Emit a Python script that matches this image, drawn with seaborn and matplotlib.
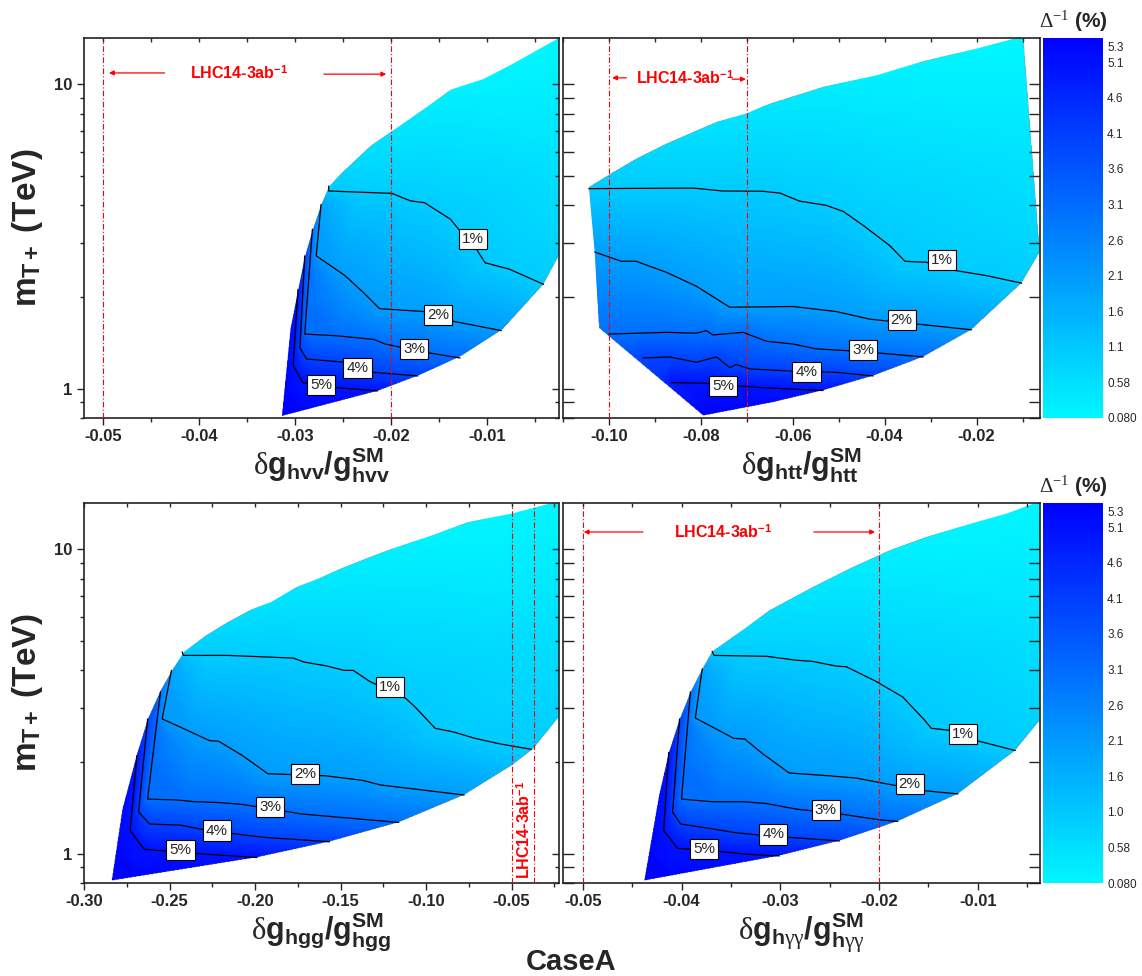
import numpy as np
import matplotlib
matplotlib.use('Agg')
import matplotlib.pyplot as plt
import matplotlib.tri as mtri
import seaborn as sns
from matplotlib.colors import LinearSegmentedColormap, Normalize
from matplotlib.cm import ScalarMappable
from matplotlib.patches import Polygon
from matplotlib.ticker import (MultipleLocator, AutoMinorLocator, FormatStrFormatter,
                               FuncFormatter, NullFormatter, LogLocator)

# ---------------- data ----------------
YLIM = (0.8, 14.2)
levels = [1, 2, 3, 4, 5]

# colour bar
cbar_ticks = [0.08, 0.58, 1.08, 1.58, 2.08, 2.58, 3.08, 3.58, 4.08, 4.58, 5.08, 5.3]
cbar_labels_top = ['0.080', '0.58', '1.1', '1.6', '2.1', '2.6', '3.1', '3.6', '4.1', '4.6', '5.1', '5.3']
cbar_labels_bot = ['0.080', '0.58', '1.0', '1.6', '2.1', '2.6', '3.1', '3.6', '4.1', '4.6', '5.1', '5.3']

# --- hvv panel ---
hvv_edge_x = [-0.0314, -0.0214, -0.0172, -0.0127, -0.0083, -0.0041, -0.0025, -0.0025, -0.0077, -0.0104,
              -0.0138, -0.0161, -0.0191, -0.0221, -0.0252, -0.0265, -0.0273, -0.0282, -0.0290, -0.0297, -0.0305]
hvv_edge_m = [0.81, 0.98, 1.10, 1.28, 1.57, 2.20, 2.73, 14.2, 11.5, 10.4,
              9.6, 8.5, 7.3, 6.3, 5.1, 4.6, 4.0, 3.3, 2.7, 2.1, 1.57]
hvv_edge_val = [5.4, 5.0, 4.0, 3.0, 2.0, 1.0, 0.85, 0.08, 0.12, 0.15,
                0.2, 0.3, 0.4, 0.55, 0.8, 1.0, 2.0, 3.0, 4.0, 5.0, 5.2]
hvv_lines = {
    1: ([-0.0265, -0.0265, -0.0199, -0.0180, -0.0165, -0.0138, -0.0127, -0.0111, -0.0102, -0.0077, -0.0041],
        [4.63, 4.46, 4.38, 4.14, 4.08, 3.60, 3.26, 2.87, 2.59, 2.47, 2.20]),
    2: ([-0.0273, -0.0278, -0.0248, -0.0229, -0.0212, -0.0165, -0.0138, -0.0085],
        [4.03, 2.73, 2.35, 2.07, 1.83, 1.79, 1.67, 1.55]),
    3: ([-0.0282, -0.0290, -0.0256, -0.0218, -0.0206, -0.0161, -0.0128],
        [3.34, 1.51, 1.49, 1.45, 1.40, 1.31, 1.26]),
    4: ([-0.0290, -0.0295, -0.0288, -0.0248, -0.0218, -0.0172],
        [2.73, 1.36, 1.25, 1.22, 1.13, 1.10]),
    5: ([-0.0297, -0.0302, -0.0292, -0.0259, -0.0214],
        [2.12, 1.19, 1.046, 1.008, 0.982]),
}
hvv_lab_x = [-0.0115, -0.0151, -0.0176, -0.0235, -0.0273]
hvv_lab_m = [3.10, 1.74, 1.35, 1.17, 1.025]

# --- htt panel ---
htt_edge_x = [-0.0098, -0.0062, -0.0102, -0.0211, -0.0316, -0.0425, -0.0534, -0.0643, -0.0795, -0.1022,
              -0.1031, -0.1044, -0.0991, -0.0941, -0.0875, -0.0817, -0.0766, -0.0701, -0.0650, -0.0534,
              -0.0418, -0.0309, -0.0200]
htt_edge_m = [14.4, 2.81, 2.22, 1.56, 1.27, 1.10, 0.985, 0.90, 0.813, 1.58,
              2.81, 4.6, 5.15, 5.70, 6.39, 6.98, 7.53, 8.02, 8.65, 9.82,
              10.7, 12.0, 13.1]
htt_edge_val = [0.08, 0.8, 1.0, 2.0, 3.0, 4.0, 5.0, 5.2, 5.4, 2.9,
                2.0, 0.95, 0.9, 0.8, 0.65, 0.55, 0.5, 0.45, 0.4, 0.3,
                0.2, 0.15, 0.1]
htt_lines = {
    1: ([-0.1044, -0.0817, -0.0752, -0.0665, -0.0628, -0.0585, -0.0527, -0.0490, -0.0447, -0.0389, -0.0356,
         -0.0309, -0.0244, -0.0178, -0.0102],
        [4.54, 4.56, 4.46, 4.45, 4.39, 4.13, 4.00, 3.82, 3.44, 2.95, 2.62, 2.60, 2.44, 2.35, 2.22]),
    2: ([-0.1031, -0.0973, -0.0941, -0.0875, -0.0810, -0.0737, -0.0599, -0.0505, -0.0432, -0.0331, -0.0211],
        [2.81, 2.62, 2.62, 2.41, 2.17, 1.85, 1.86, 1.79, 1.69, 1.63, 1.56]),
    3: ([-0.1000, -0.0875, -0.0810, -0.0788, -0.0774, -0.0708, -0.0657, -0.0599, -0.0549, -0.0476, -0.0418, -0.0316],
        [1.51, 1.53, 1.52, 1.55, 1.50, 1.53, 1.43, 1.40, 1.35, 1.33, 1.31, 1.27]),
    4: ([-0.0926, -0.0868, -0.0810, -0.0766, -0.0737, -0.0723, -0.0694, -0.0599, -0.0505, -0.0425],
        [1.26, 1.27, 1.22, 1.27, 1.17, 1.20, 1.16, 1.14, 1.13, 1.10]),
    5: ([-0.0864, -0.0788, -0.0723, -0.0672, -0.0599, -0.0534],
        [1.046, 1.04, 1.02, 1.008, 0.995, 0.985]),
}
htt_lab_x = [-0.0276, -0.0363, -0.0447, -0.0570, -0.0752]
htt_lab_m = [2.64, 1.68, 1.34, 1.135, 1.02]

# --- hgg panel ---
hgg_edge_x = [-0.2840, -0.1989, -0.1564, -0.1160, -0.0777, -0.0500, -0.0372, -0.0223, -0.0223, -0.0500,
              -0.0755, -0.0968, -0.1223, -0.1351, -0.1500, -0.1628, -0.1755, -0.1904, -0.2032, -0.2160,
              -0.2287, -0.2415, -0.2479, -0.2553, -0.2628, -0.2691, -0.2777]
hgg_edge_m = [0.813, 0.97, 1.093, 1.265, 1.557, 1.945, 2.21, 2.81, 14.4, 13.1,
              12.3, 11.1, 9.95, 9.34, 8.65, 8.02, 7.53, 6.72, 6.31, 5.77,
              5.22, 4.60, 4.05, 3.44, 2.77, 2.13, 1.40]
hgg_edge_val = [5.4, 5.0, 4.0, 3.0, 2.0, 1.3, 1.0, 0.85, 0.08, 0.1,
                0.12, 0.15, 0.2, 0.25, 0.3, 0.35, 0.4, 0.5, 0.55, 0.65,
                0.8, 1.0, 2.0, 3.0, 4.0, 5.0, 5.2]
hgg_lines = {
    1: ([-0.2426, -0.2419, -0.2160, -0.1777, -0.1713, -0.1585, -0.1479, -0.1426, -0.1330, -0.1117, -0.1064,
         -0.0947, -0.0840, -0.0713, -0.0564, -0.0383],
        [4.60, 4.48, 4.48, 4.39, 4.26, 4.14, 4.00, 4.00, 3.68, 3.23, 3.03, 2.58, 2.51, 2.39, 2.29, 2.20]),
    2: ([-0.2489, -0.2543, -0.2415, -0.2266, -0.2213, -0.2074, -0.1926, -0.1585, -0.1372, -0.1266, -0.0777],
        [4.00, 2.77, 2.57, 2.35, 2.34, 2.10, 1.83, 1.80, 1.74, 1.68, 1.557]),
    3: ([-0.2553, -0.2628, -0.2457, -0.2351, -0.2202, -0.2074, -0.1798, -0.1734, -0.1160],
        [3.40, 1.51, 1.50, 1.48, 1.47, 1.45, 1.37, 1.35, 1.265]),
    4: ([-0.2628, -0.2681, -0.2617, -0.2436, -0.2309, -0.2117, -0.1947, -0.1564],
        [2.77, 1.37, 1.25, 1.24, 1.20, 1.16, 1.13, 1.093]),
    5: ([-0.2691, -0.2730, -0.2649, -0.2585, -0.2287, -0.1989],
        [2.10, 1.19, 1.033, 1.025, 0.995, 0.97]),
}
hgg_lab_x = [-0.1213, -0.1709, -0.1911, -0.2223, -0.2436]
hgg_lab_m = [3.53, 1.83, 1.42, 1.19, 1.028]

# --- h gamma gamma panel ---
hyy_edge_x = [-0.0438, -0.0301, -0.0240, -0.0181, -0.0120, -0.0062, -0.0037, -0.0037, -0.0071, -0.0101,
              -0.0152, -0.0189, -0.0230, -0.0270, -0.0311, -0.0336, -0.0369, -0.0379, -0.0391, -0.0402,
              -0.0413, -0.0423]
hyy_edge_m = [0.813, 0.982, 1.10, 1.275, 1.57, 2.18, 2.74, 14.4, 13.1, 12.3,
              11.0, 9.95, 8.65, 7.44, 6.31, 5.49, 4.62, 4.05, 3.40, 2.77,
              2.15, 1.55]
hyy_edge_val = [5.4, 5.0, 4.0, 3.0, 2.0, 1.0, 0.85, 0.08, 0.1, 0.12,
                0.15, 0.2, 0.3, 0.4, 0.55, 0.7, 1.0, 2.0, 3.0, 4.0,
                5.0, 5.2]
hyy_lines = {
    1: ([-0.0369, -0.0367, -0.0314, -0.0284, -0.0267, -0.0243, -0.0233, -0.0203, -0.0176, -0.0155, -0.0147,
         -0.0128, -0.0101, -0.0062],
        [4.62, 4.48, 4.45, 4.32, 4.28, 4.13, 4.11, 3.68, 3.27, 2.77, 2.58, 2.54, 2.35, 2.18]),
    2: ([-0.0379, -0.0386, -0.0372, -0.0347, -0.0336, -0.0318, -0.0291, -0.0250, -0.0223, -0.0199, -0.0155, -0.0120],
        [4.05, 2.79, 2.64, 2.39, 2.38, 2.13, 1.84, 1.80, 1.77, 1.71, 1.61, 1.57]),
    3: ([-0.0391, -0.0400, -0.0369, -0.0338, -0.0314, -0.0284, -0.0240, -0.0199, -0.0181],
        [3.40, 1.51, 1.48, 1.48, 1.46, 1.40, 1.35, 1.29, 1.275]),
    4: ([-0.0402, -0.0409, -0.0401, -0.0372, -0.0345, -0.0321, -0.0291, -0.0257, -0.0240],
        [2.77, 1.37, 1.25, 1.21, 1.17, 1.15, 1.13, 1.11, 1.10]),
    5: ([-0.0413, -0.0418, -0.0404, -0.0389, -0.0358, -0.0335, -0.0301],
        [2.15, 1.19, 1.039, 1.033, 1.013, 0.995, 0.982]),
}
hyy_lab_x = [-0.0115, -0.0169, -0.0254, -0.0307, -0.0377]
hyy_lab_m = [2.47, 1.69, 1.39, 1.155, 1.033]

# LHC14 3ab^-1 reach lines
hvv_red = [-0.05, -0.02]
htt_red = [-0.10, -0.07]
hgg_red = [-0.05, -0.037]
hyy_red = [-0.05, -0.02]

# ---------------- style ----------------
sns.set_style('ticks')
plt.rcParams['font.family'] = ['Liberation Sans', 'DejaVu Sans']
plt.rcParams['axes.unicode_minus'] = False
plt.rcParams['mathtext.fontset'] = 'custom'
plt.rcParams['mathtext.rm'] = 'Liberation Serif'
plt.rcParams['mathtext.it'] = 'Liberation Serif:italic'
plt.rcParams['mathtext.bf'] = 'Liberation Sans:bold'
plt.rcParams['mathtext.sf'] = 'Liberation Sans'

cmap = LinearSegmentedColormap.from_list('cyanblue', ['#00f6ff', '#0000ff'])
norm = Normalize(vmin=0.08, vmax=5.42)


def to_norm(x, m, xlim):
    u = (np.asarray(x, float) - xlim[0]) / (xlim[1] - xlim[0]) * 1.25
    w = (np.log10(m) - np.log10(YLIM[0])) / (np.log10(YLIM[1]) - np.log10(YLIM[0]))
    return u, w


def densify(x, m, v, xlim, closed=False, step=0.006):
    # extra nodes along polylines so the triangulation follows the contours
    x, m, v = list(x), list(m), list(v)
    if closed:
        x.append(x[0]); m.append(m[0]); v.append(v[0])
    u, w = to_norm(x, m, xlim)
    lm = np.log10(m)
    ox, om, ov = [], [], []
    for i in range(len(x) - 1):
        n = max(int(np.hypot(u[i + 1] - u[i], w[i + 1] - w[i]) / step), 1)
        t = np.arange(n) / n
        ox.extend(x[i] + (x[i + 1] - x[i]) * t)
        om.extend(lm[i] + (lm[i + 1] - lm[i]) * t)
        ov.extend(v[i] + (v[i + 1] - v[i]) * t)
    if not closed:
        ox.append(x[-1]); om.append(lm[-1]); ov.append(v[-1])
    return ox, om, ov


def raster(u, w, v, tris, gu, gw):
    # linear interpolation over each triangle, written into a pixel grid
    Z = np.full((len(gw), len(gu)), np.nan)
    for t in tris:
        u0, u1, u2 = u[t]
        w0, w1, w2 = w[t]
        det = (w1 - w2) * (u0 - u2) + (u2 - u1) * (w0 - w2)
        if abs(det) < 1e-12:
            continue
        i0, i1 = np.searchsorted(gu, [min(u0, u1, u2), max(u0, u1, u2)])
        j0, j1 = np.searchsorted(gw, [min(w0, w1, w2), max(w0, w1, w2)])
        i0, j0 = max(i0 - 1, 0), max(j0 - 1, 0)
        if i1 <= i0 or j1 <= j0:
            continue
        U, W = np.meshgrid(gu[i0:i1 + 1], gw[j0:j1 + 1])
        l0 = ((w1 - w2) * (U - u2) + (u2 - u1) * (W - w2)) / det
        l1 = ((w2 - w0) * (U - u2) + (u0 - u2) * (W - w2)) / det
        l2 = 1 - l0 - l1
        inside = (l0 >= -1e-6) & (l1 >= -1e-6) & (l2 >= -1e-6)
        val = l0 * v[t[0]] + l1 * v[t[1]] + l2 * v[t[2]]
        sub = Z[j0:j1 + 1, i0:i1 + 1]
        sub[inside] = val[inside]
    return Z


def draw_field(fax, ex, em, ev, lines, xlim):
    px, pl, pv = densify(ex, em, ev, xlim, closed=True)
    for lev, (lx, lm) in lines.items():
        a, b, c = densify(lx, lm, [lev] * len(lx), xlim)
        px += a; pl += b; pv += c
    px, pl, pv = map(np.asarray, (px, pl, pv))
    u, w = to_norm(px, 10 ** pl, xlim)
    key = np.round(np.column_stack([u, w]), 4)
    _, idx = np.unique(key, axis=0, return_index=True)
    idx = np.sort(idx)
    pv, u, w = pv[idx], u[idx], w[idx]
    tri_n = mtri.Triangulation(u, w)
    ly = np.log10(YLIM)
    gx = np.linspace(xlim[0], xlim[1], 700)
    gy = np.linspace(ly[0], ly[1], 560)
    gu, _ = to_norm(gx, np.ones_like(gx), xlim)
    _, gw = to_norm(np.zeros_like(gy), 10 ** gy, xlim)
    Z = raster(u, w, pv, tri_n.triangles, gu, gw)
    im = fax.imshow(np.ma.masked_invalid(Z), origin='lower',
                    extent=[xlim[0], xlim[1], ly[0], ly[1]],
                    aspect='auto', cmap=cmap, norm=norm, interpolation='bilinear')
    poly = Polygon(np.column_stack([ex, np.log10(em)]), closed=True,
                   facecolor='none', edgecolor='none', transform=fax.transData)
    fax.add_patch(poly)
    im.set_clip_path(poly)


def xl(sub):
    return (r'$\mathrm{\delta}\mathbf{g}_{' + sub + r'}\mathbf{/g}_{' + sub
            + r'}^{\mathbf{SM}}$')


fig = plt.figure(figsize=(11.42, 9.76), dpi=100)
H = 380 / 976
B_top, B_bot = (976 - 418) / 976, (976 - 883) / 976
L_left, W_left = 84 / 1142, 475 / 1142
L_right, W_right = 563 / 1142, 477 / 1142

panels = [
    dict(pos=[L_left, B_top, W_left, H], xlim=(-0.052, -0.0025), major=0.01,
         edge=(hvv_edge_x, hvv_edge_m, hvv_edge_val), lines=hvv_lines,
         lab=(hvv_lab_x, hvv_lab_m), red=hvv_red, xlabel=xl(r'\mathbf{hvv}'), left=True,
         lhc=(-0.0358, 10.9, 0), arrows=[(-0.0436, -0.0494, 10.9), (-0.0270, -0.0205, 10.8)]),
    dict(pos=[L_right, B_top, W_right, H], xlim=(-0.110, -0.0062), major=0.02,
         edge=(htt_edge_x, htt_edge_m, htt_edge_val), lines=htt_lines,
         lab=(htt_lab_x, htt_lab_m), red=htt_red, xlabel=xl(r'\mathbf{htt}'), left=False,
         lhc=(-0.0835, 10.5, 0), arrows=[(-0.0962, -0.0993, 10.5), (-0.0732, -0.0702, 10.4)]),
    dict(pos=[L_left, B_bot, W_left, H], xlim=(-0.30, -0.0223), major=0.05,
         edge=(hgg_edge_x, hgg_edge_m, hgg_edge_val), lines=hgg_lines,
         lab=(hgg_lab_x, hgg_lab_m), red=hgg_red, xlabel=xl(r'\mathbf{hgg}'), left=True,
         lhc=(-0.0428, 1.2, 90), arrows=[]),
    dict(pos=[L_right, B_bot, W_right, H], xlim=(-0.052, -0.0037), major=0.01,
         edge=(hyy_edge_x, hyy_edge_m, hyy_edge_val), lines=hyy_lines,
         lab=(hyy_lab_x, hyy_lab_m), red=hyy_red,
         xlabel=xl(r'\mathbf{h}\mathrm{\gamma\gamma}'), left=False,
         lhc=(-0.0358, 11.4, 0), arrows=[(-0.0439, -0.0499, 11.4), (-0.0266, -0.0204, 11.4)]),
]

for p in panels:
    # field drawn in a plain log10 layer underneath
    fax = fig.add_axes(p['pos'])
    fax.set_xlim(p['xlim'])
    fax.set_ylim(np.log10(YLIM))
    fax.axis('off')
    draw_field(fax, *p['edge'], p['lines'], p['xlim'])

    ax = fig.add_axes(p['pos'])
    ax.patch.set_visible(False)
    ax.set_yscale('log')
    for lev, (lx, lm) in p['lines'].items():
        sns.lineplot(x=lx, y=lm, sort=False, estimator=None, color='black',
                     linewidth=0.9, ax=ax, zorder=3)
    for xv in p['red']:
        ax.axvline(xv, color='red', lw=0.8, ls=(0, (5, 2, 1, 2)), zorder=4)
    for lx, lm, lev in zip(*p['lab'], levels):
        ax.text(lx, lm, f'{lev}%', ha='center', va='center', fontsize=11, zorder=6,
                bbox=dict(boxstyle='square,pad=0.2', fc='white', ec='black', lw=0.8))
    tx, tm, rot = p['lhc']
    ax.text(tx, tm, r'LHC14-3ab$^{\mathbf{-1}}$', color='red', fontsize=11.5,
            fontweight='bold', ha='center', va='center', rotation=rot, zorder=6)
    for tail, head, am in p['arrows']:
        ax.annotate('', xy=(head, am), xytext=(tail, am),
                    arrowprops=dict(arrowstyle='-|>', color='red', lw=0.9,
                                    mutation_scale=7, shrinkA=0, shrinkB=0), zorder=6)

    ax.set_xlim(p['xlim'])
    ax.set_ylim(YLIM)
    ax.xaxis.set_major_locator(MultipleLocator(p['major']))
    ax.xaxis.set_minor_locator(AutoMinorLocator(2))
    ax.xaxis.set_major_formatter(FormatStrFormatter('%.2f'))
    ax.yaxis.set_major_locator(LogLocator(base=10))
    ax.yaxis.set_minor_locator(LogLocator(base=10, subs=np.arange(2, 10)))
    ax.yaxis.set_major_formatter(FuncFormatter(lambda v, _: f'{v:g}'))
    ax.yaxis.set_minor_formatter(NullFormatter())
    ax.tick_params(axis='x', which='both', direction='out', labelsize=12, pad=3, width=1)
    ax.tick_params(axis='x', which='major', length=5)
    ax.tick_params(axis='x', which='minor', length=3)
    for t in ax.get_xticklabels():
        t.set_fontweight('bold')
    for s in ax.spines.values():
        s.set_linewidth(1.2)
        s.set_color('#222222')
    ax.set_xlabel(p['xlabel'], fontsize=22, labelpad=1)

    # inward ticks along the top
    tax = ax.twiny()
    tax.set_xlim(p['xlim'])
    tax.xaxis.set_major_locator(MultipleLocator(p['major']))
    tax.xaxis.set_minor_locator(AutoMinorLocator(2))
    tax.tick_params(axis='x', which='both', direction='in', labeltop=False, width=1, length=3)
    for s in tax.spines.values():
        s.set_visible(False)

    if p['left']:
        ax.tick_params(axis='y', which='both', direction='out', labelsize=12, width=1)
        ax.tick_params(axis='y', which='major', length=5)
        ax.tick_params(axis='y', which='minor', length=3)
        for t in ax.get_yticklabels():
            t.set_fontweight('bold')
        ax.set_ylabel(r'$\mathbf{m}_{\mathbf{T+}}$ (TeV)', fontsize=24, fontweight='bold', labelpad=6)
        ax2 = ax.twinx()
        ax2.set_yscale('log')
        ax2.set_ylim(YLIM)
        ax2.yaxis.set_minor_locator(LogLocator(base=10, subs=np.arange(2, 10)))
        ax2.tick_params(axis='y', which='both', direction='in', labelright=False, width=1)
        ax2.tick_params(axis='y', which='major', length=5)
        ax2.tick_params(axis='y', which='minor', length=3)
        for s in ax2.spines.values():
            s.set_visible(False)
    else:
        ax.tick_params(axis='y', which='both', direction='in', left=True, right=True,
                       labelleft=False, width=1)
        ax.tick_params(axis='y', which='major', length=8)
        ax.tick_params(axis='y', which='minor', length=8)

# colour bars
for bottom, labels in [(B_top, cbar_labels_top), (B_bot, cbar_labels_bot)]:
    cax = fig.add_axes([1043 / 1142, bottom, 60 / 1142, H])
    cb = fig.colorbar(ScalarMappable(norm=norm, cmap=cmap), cax=cax)
    cb.set_ticks(cbar_ticks)
    cb.set_ticklabels(labels)
    cb.outline.set_visible(False)
    cax.tick_params(length=0, labelsize=8.5, pad=3)
    cax.text(0.5, 1.01, r'$\mathrm{\Delta}^{-1}$ (%)', transform=cax.transAxes,
             ha='center', va='bottom', fontsize=15, fontweight='bold')

fig.text(0.5, 0.014, 'CaseA', ha='center', va='center', fontsize=21, fontweight='bold')

fig.savefig('out.png', dpi=100)
